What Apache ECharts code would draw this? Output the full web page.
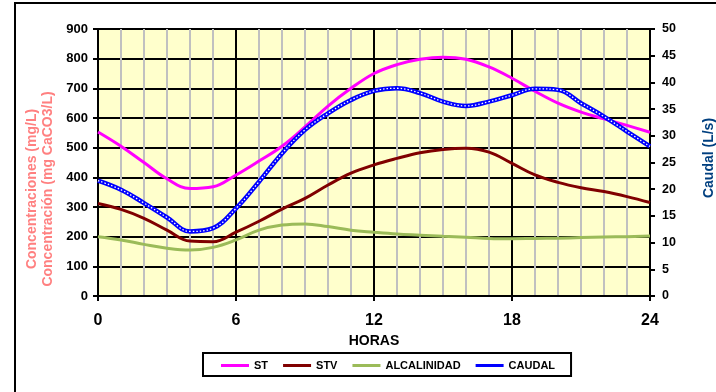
<!DOCTYPE html>
<html>
<head>
<meta charset="utf-8">
<script src="https://cdn.jsdelivr.net/npm/echarts@6/dist/echarts.min.js"></script>
<style>
html,body{margin:0;padding:0;background:#fff;}
#chart{width:716px;height:392px;}
</style>
</head>
<body>
<div id="chart"></div>
<script>
// Hours of the day (x values)
const hours = [0,1,2,3,4,5,6,7,8,9,10,11,12,13,14,15,16,17,18,19,20,21,22,23,24];
// Concentrations (mg/L) — left axis
const st   = [553,505,450,395,362,368,408,455,505,570,640,700,750,780,798,805,798,772,734,690,650,620,597,575,552];
const stv  = [312,292,262,222,185,183,215,252,293,329,374,414,442,464,483,494,498,485,447,408,383,365,352,335,315];
const alc  = [200,189,174,161,155,164,189,222,239,243,234,222,215,209,205,201,198,194,193,194,195,197,199,200,202];
// Flow (L/s) — right axis
const caudal = [21.6,19.9,17.4,14.7,12.1,12.7,16.4,21.4,26.7,31.1,34.2,36.7,38.4,38.9,38.0,36.4,35.6,36.4,37.6,38.8,38.6,36.1,33.6,30.8,28.0];
// Axis ticks
const xTicks = [0,6,12,18,24];
const leftTicks = [0,100,200,300,400,500,600,700,800,900];
const rightTicks = [0,5,10,15,20,25,30,35,40,45,50];
const seriesNames = ['ST','STV','ALCALINIDAD','CAUDAL'];

const FONT = "'Liberation Sans', Arial, sans-serif";
const pair = arr => hours.map((h,i)=>[h,arr[i]]);

const chart = echarts.init(document.getElementById('chart'), null, {renderer:'canvas'});
chart.setOption({
  backgroundColor:'#ffffff',
  animation:false,
  textStyle:{fontFamily:FONT},
  grid:{left:98,right:66,top:29,bottom:96,show:true,backgroundColor:'#FFFFCC',borderWidth:0},
  graphic:[
    {type:'rect',z:-10,shape:{x:15,y:3,width:760,height:460},style:{fill:'none',stroke:'#000',lineWidth:2}},
    {type:'text',x:40,y:189,rotation:Math.PI/2,z:10,
      style:{text:'Concentraciones (mg/L)\nConcentración (mg CaCO3/L)',fill:'#FF8080',
        font:'bold 14px '+FONT,align:'center',verticalAlign:'middle',lineHeight:16}},
    {type:'text',x:709,y:158,rotation:Math.PI/2,z:10,
      style:{text:'Caudal (L/s)',fill:'#003F7F',font:'bold 14px '+FONT,align:'center',verticalAlign:'middle'}}
  ],
  legend:{
    data:seriesNames.map(n=>({name:n,icon:'rect'})),
    left:203, top:353, orient:'horizontal',
    padding:[7,16,5,18], itemGap:15, itemWidth:28, itemHeight:3,
    borderColor:'#000', borderWidth:2, backgroundColor:'#fff',
    textStyle:{fontFamily:FONT,fontWeight:'bold',fontSize:11,color:'#000'}
  },
  xAxis:{
    type:'value', min:xTicks[0], max:xTicks[xTicks.length-1], interval:6,
    name:'HORAS', nameLocation:'middle', nameGap:37,
    nameTextStyle:{fontFamily:FONT,fontWeight:'bold',fontSize:14,color:'#000'},
    axisLine:{show:true,onZero:false,lineStyle:{color:'#000',width:2}},
    axisTick:{show:true,length:5,lineStyle:{color:'#000',width:2}},
    axisLabel:{fontFamily:FONT,fontWeight:'bold',fontSize:16,color:'#000',margin:17},
    splitLine:{show:true,lineStyle:{color:'#000',width:2}},
    minorTick:{show:false,splitNumber:6},
    minorSplitLine:{show:true,lineStyle:{color:'#C0C0C0',width:2}}
  },
  yAxis:[
    {
      type:'value', min:leftTicks[0], max:leftTicks[leftTicks.length-1], interval:100, position:'left',
      axisLine:{show:true,lineStyle:{color:'#000',width:2}},
      axisTick:{show:true,length:5,lineStyle:{color:'#000',width:2}},
      axisLabel:{fontFamily:FONT,fontWeight:'bold',fontSize:13,color:'#000',margin:10},
      splitLine:{show:true,lineStyle:{color:'#000',width:2}}
    },
    {
      type:'value', min:rightTicks[0], max:rightTicks[rightTicks.length-1], interval:5, position:'right',
      axisLine:{show:true,lineStyle:{color:'#000',width:2}},
      axisTick:{show:true,length:5,lineStyle:{color:'#000',width:2}},
      axisLabel:{fontFamily:FONT,fontWeight:'bold',fontSize:12.5,color:'#000',margin:12},
      splitLine:{show:false}
    }
  ],
  series:[
    {name:'ST',type:'line',yAxisIndex:0,data:pair(st),smooth:0.4,symbol:'none',
      itemStyle:{color:'#FF00FF'},lineStyle:{color:'#FF00FF',width:3}},
    {name:'STV',type:'line',yAxisIndex:0,data:pair(stv),smooth:0.4,symbol:'none',
      itemStyle:{color:'#800000'},lineStyle:{color:'#800000',width:3}},
    {name:'ALCALINIDAD',type:'line',yAxisIndex:0,data:pair(alc),smooth:0.4,symbol:'none',
      itemStyle:{color:'#9BBB59'},lineStyle:{color:'#9BBB59',width:3}},
    {name:'CAUDAL',type:'line',yAxisIndex:1,data:pair(caudal),smooth:0.4,symbol:'none',
      itemStyle:{color:'#0000FF'},lineStyle:{color:'#0000FF',width:4.5}},
    {name:'CAUDAL_pattern',type:'line',yAxisIndex:1,data:pair(caudal),smooth:0.4,symbol:'none',
      silent:true,lineStyle:{color:'#ffffff',width:1.3,type:[1.5,2]}}
  ]
});
</script>
</body>
</html>
